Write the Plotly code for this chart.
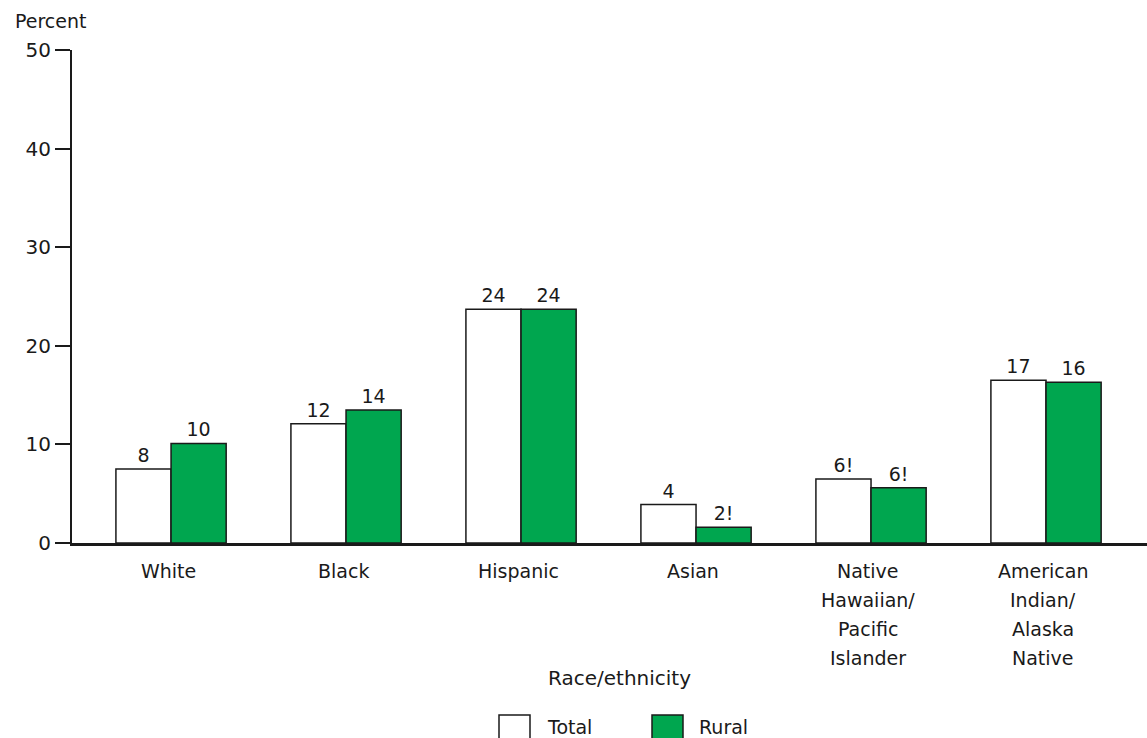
import plotly.graph_objects as go

categories = ["White", "Black", "Hispanic", "Asian",
              "Native<br>Hawaiian/<br>Pacific<br>Islander",
              "American<br>Indian/<br>Alaska<br>Native"]
total_values = [7.5, 12.1, 23.7, 3.9, 6.5, 16.5]
rural_values = [10.1, 13.5, 23.7, 1.6, 5.6, 16.3]
total_labels = ["8", "12", "24", "4", "6!", "17"]
rural_labels = ["10", "14", "24", "2!", "6!", "16"]
y_ticks = [0, 10, 20, 30, 40, 50]
series_names = ["Total", "Rural"]

FONT = "DejaVu Sans"
FS = 19
INK = "#1a1a1a"
GREEN = "#00A64F"
colors = ["white", GREEN]

W, H = 1147, 738
ML, MR, MT, MB = 72, 0, 50, 195
PW, PH = W - ML - MR, H - MT - MB


def px_x(px):
    return (px - ML) / PW


def px_y(py):
    return (H - MB - py) / PH


fig = go.Figure()
for name, vals, labs, col in zip(series_names, [total_values, rural_values],
                                 [total_labels, rural_labels], colors):
    fig.add_trace(go.Bar(
        name=name, x=list(range(len(categories))), y=vals, text=labs,
        textposition="outside", cliponaxis=False,
        marker=dict(color=col, line=dict(color=INK, width=1.5)),
        textfont=dict(size=FS, color=INK, family=FONT),
        showlegend=False, hoverinfo="skip",
    ))

annotations = []
# category labels, one annotation per line for wider line spacing
for i, cat in enumerate(categories):
    for j, line in enumerate(cat.split("<br>")):
        annotations.append(dict(
            text=line, x=i, y=0, xref="x", yref="y", showarrow=False,
            xanchor="center", yanchor="middle", xshift=-3, yshift=-28 - 29 * j,
            font=dict(size=FS, family=FONT, color=INK)))

annotations += [
    dict(text="Percent", xref="paper", yref="paper", x=px_x(13), y=px_y(21),
         xanchor="left", yanchor="middle", showarrow=False,
         font=dict(size=FS, family=FONT, color=INK)),
    dict(text="Race/ethnicity", xref="paper", yref="paper", x=px_x(619.5), y=px_y(678),
         xanchor="center", yanchor="middle", showarrow=False,
         font=dict(size=20, family=FONT, color=INK)),
]

# legend drawn manually to match the larger swatches
shapes = []
legend_box_x = [499, 652]
legend_text_x = [545, 697]
for name, col, bx, tx in zip(series_names, colors, legend_box_x, legend_text_x):
    shapes.append(dict(type="rect", xref="paper", yref="paper",
                       x0=px_x(bx), x1=px_x(bx + 31), y0=px_y(742), y1=px_y(715),
                       fillcolor=col, line=dict(color=INK, width=1.5)))
    annotations.append(dict(text=name, xref="paper", yref="paper", x=px_x(tx), y=px_y(727),
                            xanchor="left", yanchor="middle", showarrow=False,
                            font=dict(size=FS, family=FONT, color=INK)))

fig.update_layout(
    width=W, height=H,
    margin=dict(l=ML, r=MR, t=MT, b=MB, autoexpand=False),
    paper_bgcolor="white", plot_bgcolor="white",
    barmode="group", bargap=0.37, bargroupgap=0,
    font=dict(family=FONT, size=FS, color=INK),
    showlegend=False, hovermode=False,
    xaxis=dict(
        range=[-0.566, 5.577], showline=True, linecolor=INK, linewidth=2.5,
        showticklabels=False, ticks="", showgrid=False, zeroline=False,
    ),
    yaxis=dict(
        range=[0, 50], tickvals=y_ticks, showline=True, linecolor=INK,
        linewidth=2, ticks="outside", ticklen=15, tickwidth=1.5, tickcolor=INK,
        tickfont=dict(size=20, family=FONT, color=INK), showgrid=False, zeroline=False,
    ),
    annotations=annotations,
    shapes=shapes,
)

fig.write_html("out.html", config={"displayModeBar": False},
               post_script="document.body.style.margin='0';document.body.style.overflow='hidden';")
